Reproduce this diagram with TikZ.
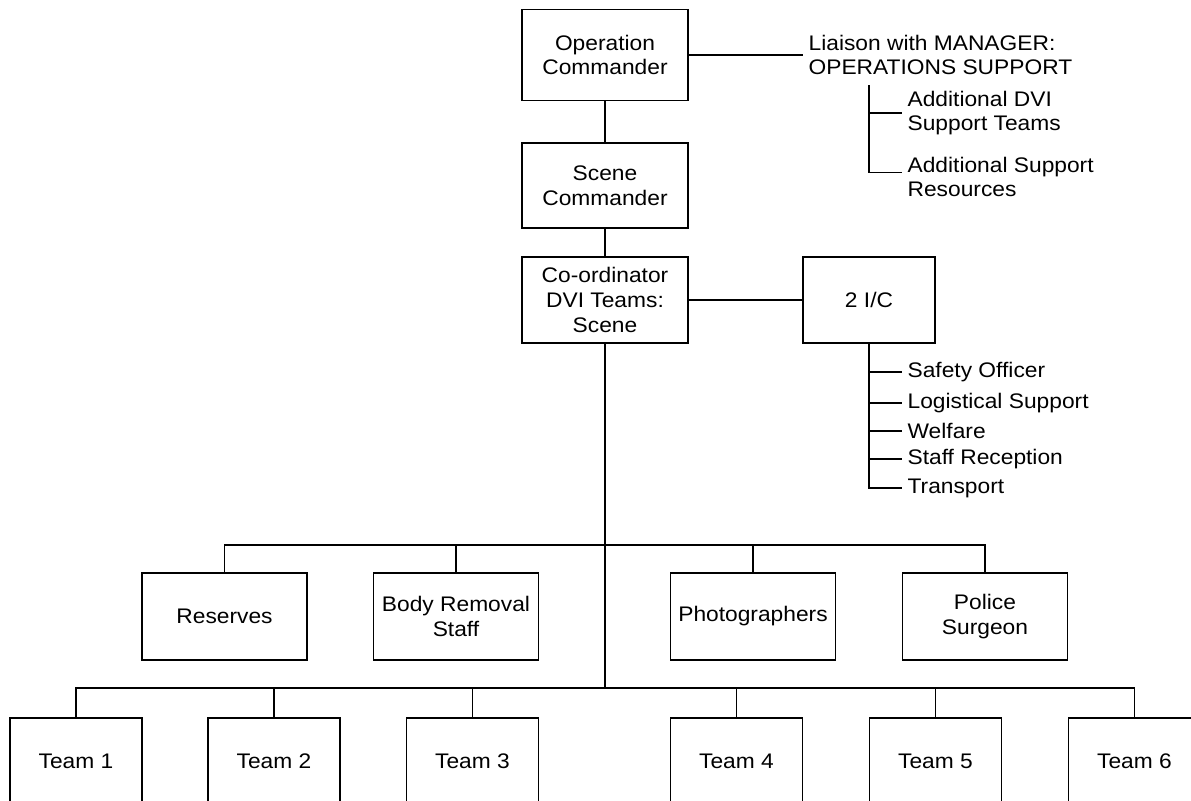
\documentclass[tikz,border=0pt]{standalone}
\usepackage{fontspec}
\setmainfont{Liberation Sans}[FakeStretch=1.08]
\usetikzlibrary{calc}

\begin{document}
\begin{tikzpicture}
		[x = 0.02cm, y = -0.02cm,
		every node/.style={font=\fontsize{12}{14}\selectfont},
		post/.style={draw,line width=0.6pt,align=center,inner sep=0pt,minimum width=3.32cm,minimum height=1.72cm},
		unit/.style={post,minimum width=3.3cm,minimum height=1.74cm},
		team/.style={post,minimum width=2.64cm,minimum height=1.74cm},
		duty/.style={anchor=west,align=left,inner sep=3pt},
		link/.style={line width=0.6pt},
		trunk/.style={line width=1.1pt}
		]

        \path[use as bounding box] (0,0) rectangle (1191,801);
        \clip (0,0) rectangle (1191,801);

        % Command line
        \node[post,minimum height=1.82cm] (op) at (605,55) {Operation\\Commander};
        \node[post,minimum height=1.70cm] (scene) at (605,185.5) {Scene\\Commander};
        \node[post] (coord) at (605,300) {Co-ordinator\\DVI Teams:\\Scene};
        \node[post,minimum width=2.64cm] (ic) at (869,300) {2 I/C};

        \draw[link] (op) -- (scene);
        \draw[link] (scene) -- (coord);
        \draw[link] (coord) -- (ic);

        % Liaison
        \node[duty,anchor=west] (liaison) at (803,55) {Liaison with MANAGER:\\OPERATIONS SUPPORT};
        \node[duty] (adddvi) at (902,113) {Additional DVI\\Support Teams};
        \node[duty] (addsup) at (902,177) {Additional Support\\Resources};
        \coordinate (lt) at (869,85);
        \draw[link] (op.east) -- (liaison.west);
        \draw[link] (lt) |- (adddvi.west);
        \draw[link] (lt) |- ([yshift=2.8pt]addsup.west);

        % 2 I/C duties
        \node[duty] (safety) at (902,372) {Safety Officer};
        \node[duty] (logist) at (902,403) {Logistical Support};
        \node[duty] (welfare) at (902,431) {Welfare};
        \node[duty] (staff) at (902,459) {Staff Reception};
        \node[duty] (transport) at (902,488) {Transport};
        \foreach \d in {safety,logist,welfare,staff,transport}
            \draw[link] (ic.south) |- (\d.west);

        % Scene units
        \node[unit] (reserves) at (224.5,616.5) {Reserves};
        \node[unit] (body) at (456,616.5) {Body Removal\\Staff};
        \node[unit] (photo) at (753,616.5) {Photographers};
        \node[unit] (surgeon) at (985,616.5) {Police\\Surgeon};

        % Teams
        \node[team] (t1) at (76,761.5) {Team 1};
        \node[team] (t2) at (274,761.5) {Team 2};
        \node[team] (t3) at (472.5,761.5) {Team 3};
        \node[team] (t4) at (736.5,761.5) {Team 4};
        \node[team] (t5) at (935.5,761.5) {Team 5};
        \node[team] (t6) at (1134.5,761.5) {Team 6};

        %draw the trunk and buses
        \coordinate (ub) at (605,545);
        \coordinate (tb) at (605,688);
        \draw[trunk] (coord.south) -- (tb);
        \foreach \u in {reserves,body,photo,surgeon}
            \draw[link] (ub) -| (\u.north);
        \foreach \t in {t1,t2,t3,t4,t5,t6}
            \draw[link] (tb) -| (\t.north);

\end{tikzpicture}
\end{document}
